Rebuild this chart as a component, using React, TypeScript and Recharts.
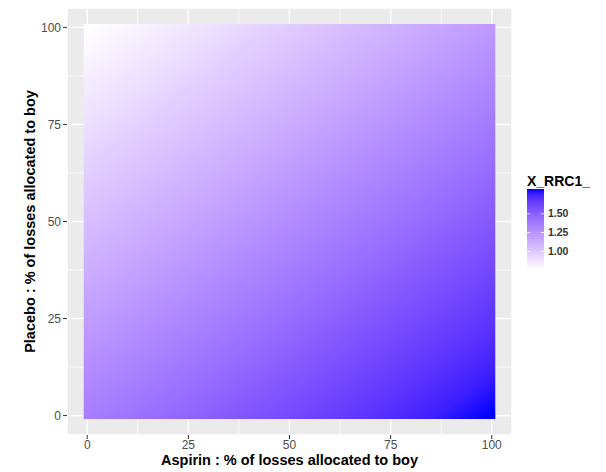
import { ScatterChart, Scatter, XAxis, YAxis, CartesianGrid, ReferenceArea, ZAxis } from 'recharts'

// axis breaks
const xTicks = [0, 25, 50, 75, 100]
const yTicks = [0, 25, 50, 75, 100]
const xMinor = [12.5, 37.5, 62.5, 87.5]
const yMinor = [12.5, 37.5, 62.5, 87.5]
const legendTicks = [1.0, 1.25, 1.5]

// X_RRC1_ read at the corners of the grid (aspirin 0 / 100)
const aspirinCorners = [0, 100]
const rrcPlacebo0 = [1.355, 1.83]
const rrcPlacebo100 = [0.75, 1.225]

const FONT = '"Liberation Sans", Arial, sans-serif'
const DOMAIN: [number, number] = [-5, 105]

const corners = [
  ...aspirinCorners.map((x, i) => ({ x, y: 0, v: rrcPlacebo0[i] })),
  ...aspirinCorners.map((x, i) => ({ x, y: 100, v: rrcPlacebo100[i] })),
]
const allValues = [...rrcPlacebo0, ...rrcPlacebo100]
const vMin = Math.min(...allValues)
const vMax = Math.max(...allValues)

// white -> blue gradient in Lab, like scale_colour_gradient
const toLin = (c: number) => {
  c /= 255
  return c <= 0.04045 ? c / 12.92 : Math.pow((c + 0.055) / 1.055, 2.4)
}
const fromLin = (c: number) => {
  const v = c <= 0.0031308 ? 12.92 * c : 1.055 * Math.pow(c, 1 / 2.4) - 0.055
  return Math.max(0, Math.min(255, Math.round(v * 255)))
}
const f = (t: number) => (t > 0.008856 ? Math.cbrt(t) : 7.787 * t + 16 / 116)
const fi = (t: number) => (t > 0.206893 ? t * t * t : (t - 16 / 116) / 7.787)
function rgbToLab([r, g, b]: number[]) {
  const R = toLin(r), G = toLin(g), B = toLin(b)
  const X = (0.4124 * R + 0.3576 * G + 0.1805 * B) / 0.95047
  const Y = 0.2126 * R + 0.7152 * G + 0.0722 * B
  const Z = (0.0193 * R + 0.1192 * G + 0.9505 * B) / 1.08883
  return [116 * f(Y) - 16, 500 * (f(X) - f(Y)), 200 * (f(Y) - f(Z))]
}
function labToHex([L, a, b]: number[]) {
  const fy = (L + 16) / 116
  const X = 0.95047 * fi(fy + a / 500)
  const Y = fi(fy)
  const Z = 1.08883 * fi(fy - b / 200)
  const r = fromLin(3.2406 * X - 1.5372 * Y - 0.4986 * Z)
  const g = fromLin(-0.9689 * X + 1.8758 * Y + 0.0415 * Z)
  const bl = fromLin(0.0557 * X - 0.204 * Y + 1.057 * Z)
  return '#' + [r, g, bl].map((n) => n.toString(16).padStart(2, '0')).join('')
}
const LOW = rgbToLab([255, 255, 255])
const HIGH = rgbToLab([0, 0, 255])
function colorFor(v: number) {
  const t = Math.max(0, Math.min(1, (v - vMin) / (vMax - vMin)))
  return labToHex(LOW.map((l, i) => l + (HIGH[i] - l) * t))
}

// planar field over the square -> direction of the linear gradient (bbox units)
const vTL = rrcPlacebo100[0]
const gx = rrcPlacebo100[1] - vTL
const gy = rrcPlacebo0[0] - vTL
const k = (gx + gy) / (gx * gx + gy * gy)
const steps = Array.from({ length: 17 }, (_, i) => i / 16)

function minorX({ xAxis, offset }: any) {
  return xMinor.map((v) =>
    xAxis && typeof xAxis.scale === 'function'
      ? xAxis.scale(v)
      : offset.left + ((v - DOMAIN[0]) / (DOMAIN[1] - DOMAIN[0])) * offset.width,
  )
}
function minorY({ yAxis, offset }: any) {
  return yMinor.map((v) =>
    yAxis && typeof yAxis.scale === 'function'
      ? yAxis.scale(v)
      : offset.top + ((DOMAIN[1] - v) / (DOMAIN[1] - DOMAIN[0])) * offset.height,
  )
}

function ColourBar() {
  const top = 189
  const bottom = 270
  const left = 527
  const w = 17
  const pos = (v: number) => bottom - ((v - vMin) / (vMax - vMin)) * (bottom - top)
  return (
    <svg width={606} height={472} style={{ position: 'absolute', left: 0, top: 0, pointerEvents: 'none' }}>
      <defs>
        <linearGradient id="rrcBar" x1="0" y1="1" x2="0" y2="0">
          {steps.map((t) => (
            <stop key={t} offset={t} stopColor={colorFor(vMin + t * (vMax - vMin))} />
          ))}
        </linearGradient>
      </defs>
      <text x={left} y={186} fontFamily={FONT} fontWeight="bold" fontSize={14} fill="#000">
        X_RRC1_
      </text>
      <rect x={left} y={top} width={w} height={bottom - top} fill="url(#rrcBar)" />
      {legendTicks.map((v) => (
        <g key={v}>
          <line x1={left} x2={left + 3.4} y1={pos(v)} y2={pos(v)} stroke="#fff" strokeWidth={0.8} />
          <line x1={left + w - 3.4} x2={left + w} y1={pos(v)} y2={pos(v)} stroke="#fff" strokeWidth={0.8} />
          <text x={left + w + 4} y={pos(v)} dy="0.35em" fontFamily={FONT} fontWeight="bold" fontSize={10.5} fill="#333">
            {v.toFixed(2)}
          </text>
        </g>
      ))}
    </svg>
  )
}

export default function App() {
  const tick = { fill: '#4D4D4D', fontSize: 12, fontFamily: FONT }
  return (
    <div style={{ position: 'absolute', left: 0, top: 0, width: 606, height: 472, background: '#fff' }}>
      <ScatterChart width={606} height={472} margin={{ top: 8, right: 94, bottom: 0, left: 0 }}>
        <defs>
          <linearGradient id="rrcField" x1="0" y1="0" x2={gx * k} y2={gy * k}>
            {steps.map((t) => (
              <stop key={t} offset={t} stopColor={colorFor(vTL + t * (gx + gy))} />
            ))}
          </linearGradient>
        </defs>
        <CartesianGrid stroke="#fff" strokeWidth={1.4} fill="#EBEBEB" fillOpacity={1} />
        <CartesianGrid
          stroke="#fff"
          strokeWidth={0.7}
          verticalCoordinatesGenerator={minorX}
          horizontalCoordinatesGenerator={minorY}
        />
        <XAxis
          type="number"
          dataKey="x"
          domain={DOMAIN}
          ticks={xTicks}
          interval={0}
          height={37}
          axisLine={false}
          tickSize={4}
          tickMargin={1}
          tickLine={{ stroke: '#333' }}
          tick={tick}
          label={{
            content: ({ viewBox }: any) => (
              <text
                x={viewBox.x + viewBox.width / 2}
                y={viewBox.y + 30}
                textAnchor="middle"
                fontFamily={FONT}
                fontWeight="bold"
                fontSize={14.5}
                fill="#000"
              >
                Aspirin : % of losses allocated to boy
              </text>
            ),
          }}
        />
        <YAxis
          type="number"
          dataKey="y"
          domain={DOMAIN}
          ticks={yTicks}
          interval={0}
          width={67}
          axisLine={false}
          tickSize={4}
          tickLine={{ stroke: '#333' }}
          tick={tick}
          label={{
            content: ({ viewBox }: any) => {
              const cy = viewBox.y + viewBox.height / 2
              return (
                <text
                  x={35}
                  y={cy}
                  transform={`rotate(-90, 35, ${cy})`}
                  textAnchor="middle"
                  fontFamily={FONT}
                  fontWeight="bold"
                  fontSize={14.5}
                  fill="#000"
                >
                  Placebo : % of losses allocated to boy
                </text>
              )
            },
          }}
        />
        <ZAxis range={[40, 40]} />
        <ReferenceArea
          x1={0}
          x2={100}
          y1={0}
          y2={100}
          fill="url(#rrcField)"
          fillOpacity={1}
          stroke="url(#rrcField)"
          strokeWidth={7}
          strokeOpacity={1}
        />
        <Scatter
          data={corners}
          isAnimationActive={false}
          shape={(p: any) => <circle cx={p.cx} cy={p.cy} r={3.5} fill={colorFor(p.payload.v)} />}
        />
      </ScatterChart>
      <ColourBar />
    </div>
  )
}
